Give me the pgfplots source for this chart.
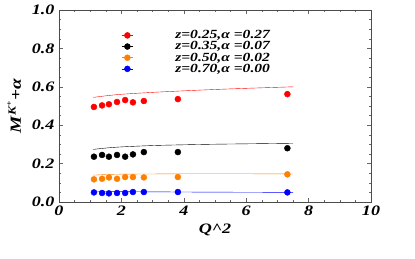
\documentclass[border=0pt]{standalone}
\usepackage{fontspec}
\setmainfont{Liberation Serif}
\newfontfamily\wfont[FakeStretch=1.25]{Liberation Serif}
\usepackage{pgfplots}
\pgfplotsset{compat=1.18}
\definecolor{mred}{rgb}{1,0,0}
\definecolor{morange}{rgb}{1,0.5,0}
\definecolor{mblue}{rgb}{0,0,1}
\begin{document}
\begin{tikzpicture}
\useasboundingbox (-59bp,-57bp) rectangle (356bp,202bp);
\begin{axis}[
  at={(0,0)}, anchor=south west,
  scale only axis, width=312bp, height=192bp,
  xmin=0, xmax=10, ymin=0, ymax=1,
  xtick={0,2,...,10}, ytick={0,0.2,...,1.0},
  minor x tick num=3, minor y tick num=3,
  tick align=inside, major tick length=4bp, minor tick length=2.5bp,
  axis line style={draw=black!70}, every tick/.style={black!60},
  /pgf/number format/assume math mode=true,
  xticklabel style={/pgf/number format/fixed, /pgf/number format/precision=0},
  yticklabel style={/pgf/number format/fixed, /pgf/number format/fixed zerofill, /pgf/number format/precision=1, xshift=-1bp},
  tick label style={font=\wfont\fontsize{14.5}{14.5}\selectfont\bfseries\itshape},
  xlabel={\bfseries\itshape Q\^{}2}, xlabel style={font=\wfont\fontsize{14.5}{14.5}\selectfont, yshift=-2bp},
  ylabel={\bfseries\itshape M\textsuperscript{K\textsuperscript{+}}+α}, ylabel style={font=\wfont\fontsize{15.5}{15.5}\selectfont, yshift=4bp},
  legend style={draw=none, fill=none, at={(0.19,0.915)}, anchor=north west,
    font=\wfont\fontsize{12.5}{11}\selectfont\bfseries\itshape, row sep=-2.6bp, column sep=40bp,
    cells={anchor=west}},
  legend image code/.code={\draw[#1, line width=0.5pt] (-0.1cm,0cm) -- (0.3cm,0cm); \draw[#1, only marks] plot coordinates {(0.1cm,0cm)};},
]
\addplot[only marks, mark=*, mark size=3bp, color=mred] coordinates {
(1.12,0.495)(1.38,0.503)(1.60,0.509)(1.86,0.521)(2.12,0.531)(2.37,0.519)(2.72,0.526)(3.81,0.536)(7.32,0.562)};
\addlegendentry{z=0.25,α =0.27}
\addplot[only marks, mark=*, mark size=3bp, color=black] coordinates {
(1.12,0.236)(1.38,0.245)(1.60,0.236)(1.86,0.245)(2.12,0.236)(2.37,0.248)(2.72,0.260)(3.81,0.260)(7.32,0.280)};
\addlegendentry{z=0.35,α =0.07}
\addplot[only marks, mark=*, mark size=3bp, color=morange] coordinates {
(1.12,0.118)(1.38,0.121)(1.60,0.128)(1.86,0.121)(2.12,0.130)(2.37,0.130)(2.72,0.128)(3.81,0.130)(7.32,0.144)};
\addlegendentry{z=0.50,α =0.02}
\addplot[only marks, mark=*, mark size=3bp, color=mblue] coordinates {
(1.12,0.050)(1.38,0.047)(1.60,0.045)(1.86,0.047)(2.12,0.047)(2.37,0.052)(2.72,0.052)(3.81,0.052)(7.32,0.050)};
\addlegendentry{z=0.70,α =0.00}
\addplot[mred, thin, smooth, forget plot] coordinates {
(1.1,0.545)(1.5,0.553)(2,0.561)(3,0.571)(4,0.579)(5,0.586)(6,0.592)(7.5,0.600)};
\addplot[black, thin, smooth, forget plot] coordinates {
(1.1,0.274)(1.5,0.281)(2,0.287)(3,0.294)(4,0.298)(5,0.301)(6,0.303)(7.5,0.306)};
\addplot[morange, thin, smooth, forget plot] coordinates {
(1.1,0.140)(1.5,0.143)(2,0.145)(3,0.146)(4,0.147)(5,0.147)(6,0.147)(7.5,0.146)};
\addplot[mblue, thin, smooth, forget plot] coordinates {
(1.1,0.055)(2,0.054)(4,0.052)(7.5,0.050)};
\end{axis}
\end{tikzpicture}
\end{document}
